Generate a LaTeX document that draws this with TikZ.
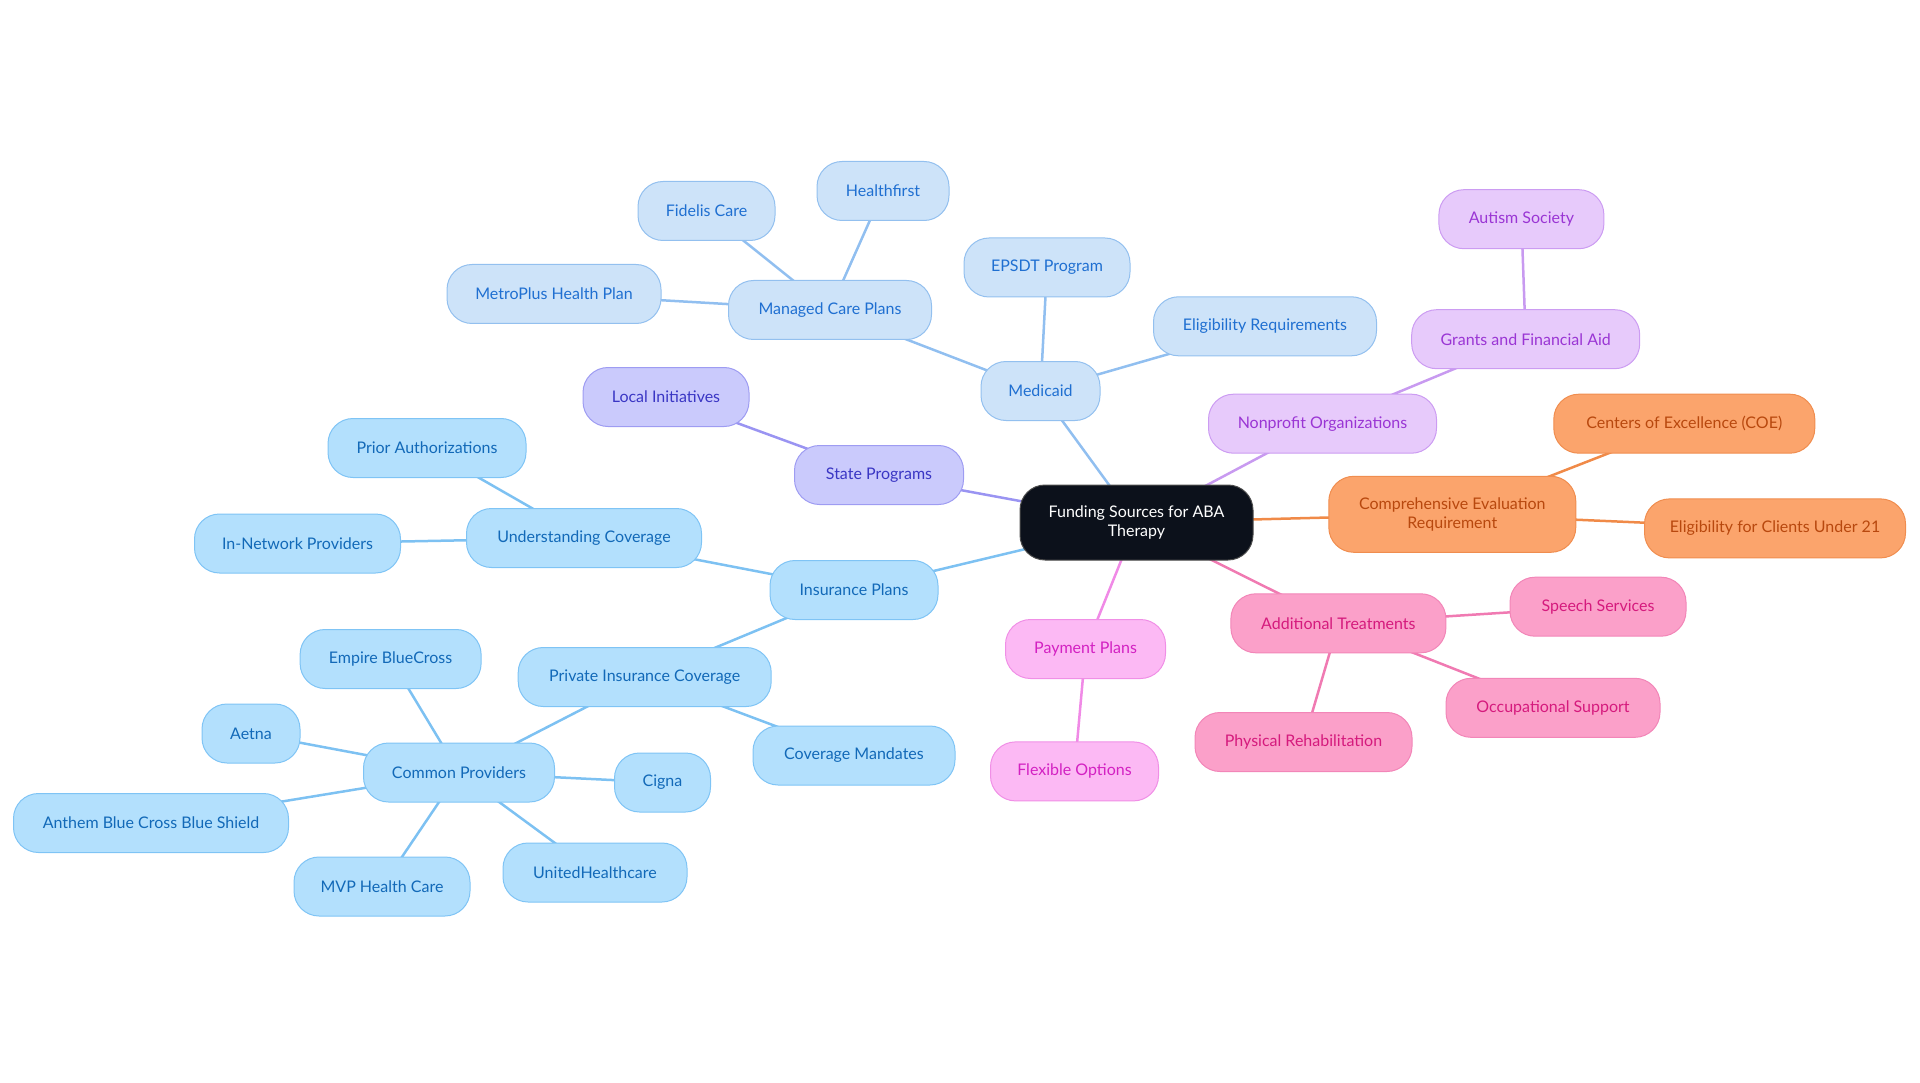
\documentclass[tikz,border=0pt]{standalone}
\usepackage{fontspec}
\setmainfont{Lato}
\usetikzlibrary{backgrounds}
\definecolor{bAf}{HTML}{CDE3F9}\definecolor{bAd}{HTML}{93C0EF}\definecolor{bAt}{HTML}{1F6FD1}\definecolor{bAe}{HTML}{91BFF0}
\definecolor{bBf}{HTML}{B3E0FD}\definecolor{bBd}{HTML}{7FC4F5}\definecolor{bBt}{HTML}{1269B8}\definecolor{bBe}{HTML}{7DC1F2}
\definecolor{stf}{HTML}{CACAFC}\definecolor{std}{HTML}{9E9CF2}\definecolor{stt}{HTML}{3A36C4}\definecolor{ste}{HTML}{9A94F2}
\definecolor{npf}{HTML}{E7CAFB}\definecolor{npd}{HTML}{CC9CF2}\definecolor{npt}{HTML}{9A35D4}\definecolor{npe}{HTML}{C89AF0}
\definecolor{orf}{HTML}{FBA46C}\definecolor{ord}{HTML}{F08D4F}\definecolor{ort}{HTML}{B8480E}\definecolor{ore}{HTML}{F08A48}
\definecolor{pkf}{HTML}{FBA0C9}\definecolor{pkd}{HTML}{F286B8}\definecolor{pkt}{HTML}{D51A7D}\definecolor{pke}{HTML}{F07AB2}
\definecolor{mgf}{HTML}{FCB9F4}\definecolor{mgd}{HTML}{F08FE6}\definecolor{mgt}{HTML}{D321C2}\definecolor{mge}{HTML}{F08AE6}
\definecolor{rootf}{HTML}{0C111B}
\begin{document}
\begin{tikzpicture}[x=1pt,y=-1pt,
  box/.style={rounded corners=25pt, minimum height=59pt, inner xsep=4pt, align=center, line width=1pt,
    font=\fontsize{16}{19}\selectfont},
  gA/.style={box, fill=bAf, draw=bAd, text=bAt},
  gB/.style={box, fill=bBf, draw=bBd, text=bBt},
  gS/.style={box, fill=stf, draw=std, text=stt},
  gN/.style={box, fill=npf, draw=npd, text=npt},
  gO/.style={box, fill=orf, draw=ord, text=ort},
  gP/.style={box, fill=pkf, draw=pkd, text=pkt},
  gM/.style={box, fill=mgf, draw=mgd, text=mgt},
  eg/.style={line width=2.5pt},
]
\useasboundingbox (0,0) rectangle (1920,1083);
\node[box, fill=rootf, draw=black!70, text=white, minimum width=233pt, minimum height=75pt] (root) at (1136.5,522.5) {Funding Sources for ABA\\Therapy};
% Medicaid branch
\node[gA, minimum width=119pt] (med) at (1040.5,391) {Medicaid};
\node[gA, minimum width=166pt] (epsdt) at (1047,267.5) {EPSDT Program};
\node[gA, minimum width=223pt] (elig) at (1265,326.3) {Eligibility Requirements};
\node[gA, minimum width=203pt] (mcp) at (830,310) {Managed Care Plans};
\node[gA, minimum width=214pt] (metro) at (554,294) {MetroPlus Health Plan};
\node[gA, minimum width=137pt] (fid) at (706.5,211) {Fidelis Care};
\node[gA, minimum width=132pt] (hf) at (883,191) {Healthfirst};
% State
\node[gS, minimum width=169pt] (state) at (879,475) {State Programs};
\node[gS, minimum width=166pt] (local) at (666,397) {Local Initiatives};
% Insurance
\node[gB, minimum width=168pt] (ins) at (854,590) {Insurance Plans};
\node[gB, minimum width=235pt] (und) at (584,538) {Understanding Coverage};
\node[gB, minimum width=198pt] (prior) at (427,448) {Prior Authorizations};
\node[gB, minimum width=206pt] (innet) at (297.5,543.5) {In-Network Providers};
\node[gB, minimum width=253pt] (priv) at (644.7,677) {Private Insurance Coverage};
\node[gB, minimum width=202pt] (mand) at (854,755.5) {Coverage Mandates};
\node[gB, minimum width=191pt] (common) at (459,772.5) {Common Providers};
\node[gB, minimum width=181pt] (empire) at (390.6,659) {Empire BlueCross};
\node[gB, minimum width=98pt] (aetna) at (251,733.5) {Aetna};
\node[gB, minimum width=275pt] (anthem) at (151,823) {Anthem Blue Cross Blue Shield};
\node[gB, minimum width=176pt] (mvp) at (382,886.5) {MVP Health Care};
\node[gB, minimum width=184pt] (united) at (595,872.5) {UnitedHealthcare};
\node[gB, minimum width=96pt] (cigna) at (662.5,782.5) {Cigna};
% Nonprofit
\node[gN, minimum width=228pt] (nonp) at (1322.5,423.7) {Nonprofit Organizations};
\node[gN, minimum width=228pt] (grants) at (1525.7,339.2) {Grants and Financial Aid};
\node[gN, minimum width=165pt] (autism) at (1521.4,219.2) {Autism Society};
% Orange
\node[gO, minimum width=247pt, minimum height=76pt] (comp) at (1452.3,514.3) {Comprehensive Evaluation\\Requirement};
\node[gO, minimum width=261pt] (coe) at (1684.3,423.7) {Centers of Excellence (COE)};
\node[gO, minimum width=261pt] (u21) at (1775,528.4) {Eligibility for Clients Under 21};
% Magenta
\node[gM, minimum width=160pt] (pay) at (1085.5,649) {Payment Plans};
\node[gM, minimum width=168pt] (flex) at (1074.5,771.4) {Flexible Options};
% Pink
\node[gP, minimum width=215pt] (add) at (1338.4,623.3) {Additional Treatments};
\node[gP, minimum width=176pt] (speech) at (1598,606.7) {Speech Services};
\node[gP, minimum width=214pt] (occ) at (1553,707.8) {Occupational Support};
\node[gP, minimum width=217pt] (phys) at (1303.5,742) {Physical Rehabilitation};
\begin{scope}[on background layer]
\draw[eg, bAe] (root.center) -- (med.center);
\draw[eg, bAe] (med.center) -- (epsdt.center);
\draw[eg, bAe] (med.center) -- (elig.center);
\draw[eg, bAe] (med.center) -- (mcp.center);
\draw[eg, bAe] (mcp.center) -- (metro.center);
\draw[eg, bAe] (mcp.center) -- (fid.center);
\draw[eg, bAe] (mcp.center) -- (hf.center);
\draw[eg, ste] (root.center) -- (state.center);
\draw[eg, ste] (state.center) -- (local.center);
\draw[eg, bBe] (root.center) -- (ins.center);
\draw[eg, bBe] (ins.center) -- (und.center);
\draw[eg, bBe] (und.center) -- (prior.center);
\draw[eg, bBe] (und.center) -- (innet.center);
\draw[eg, bBe] (ins.center) -- (priv.center);
\draw[eg, bBe] (priv.center) -- (mand.center);
\draw[eg, bBe] (priv.center) -- (common.center);
\draw[eg, bBe] (common.center) -- (empire.center);
\draw[eg, bBe] (common.center) -- (aetna.center);
\draw[eg, bBe] (common.center) -- (anthem.center);
\draw[eg, bBe] (common.center) -- (mvp.center);
\draw[eg, bBe] (common.center) -- (united.center);
\draw[eg, bBe] (common.center) -- (cigna.center);
\draw[eg, npe] (root.center) -- (nonp.center);
\draw[eg, npe] (nonp.center) -- (grants.center);
\draw[eg, npe] (grants.center) -- (autism.center);
\draw[eg, ore] (root.center) -- (comp.center);
\draw[eg, ore] (comp.center) -- (coe.center);
\draw[eg, ore] (comp.center) -- (u21.center);
\draw[eg, mge] (root.center) -- (pay.center);
\draw[eg, mge] (pay.center) -- (flex.center);
\draw[eg, pke] (root.center) -- (add.center);
\draw[eg, pke] (add.center) -- (speech.center);
\draw[eg, pke] (add.center) -- (occ.center);
\draw[eg, pke] (add.center) -- (phys.center);
\end{scope}
\end{tikzpicture}
\end{document}
